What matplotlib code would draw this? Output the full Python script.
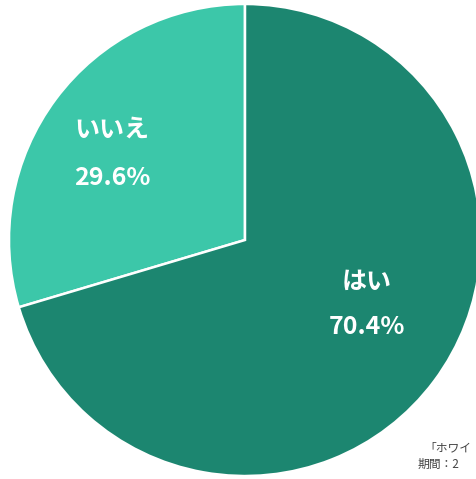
"""Pie chart: はい / いいえ split, cropped like the source screenshot."""

import matplotlib

matplotlib.use("Agg")
import matplotlib.pyplot as plt

plt.rcParams["font.family"] = ["Noto Sans CJK JP", "DejaVu Sans"]

labels = ["いいえ", "はい"]
shares = [29.6, 70.4]
colors = ["#3cc7a9", "#1c8670"]

W, H = 476, 479


def main() -> None:
    fig = plt.figure(figsize=(W / 100, H / 100), dpi=100)
    ax = fig.add_axes([0, 0, 1, 1])

    ax.pie(
        shares,
        colors=colors,
        startangle=90,
        counterclock=True,
        center=(245, H - 240),
        radius=236,
        wedgeprops=dict(edgecolor="white", linewidth=1.8),
        frame=True,
    )
    ax.set_xlim(0, W)
    ax.set_ylim(0, H)
    ax.set_aspect("equal")
    ax.axis("off")

    # labels inside the wedges
    spots = [(112, 130, 178), (367, 282, 327)]
    for lab, val, (x, y1, y2) in zip(labels, shares, spots):
        ax.text(x, H - y1, lab, ha="center", va="center", color="white",
                fontsize=18, fontweight="bold")
        ax.text(x, H - y2, f"{val}%", ha="center", va="center", color="white",
                fontsize=18, fontweight="bold")

    # source note, only the part that shows before the right edge
    ax.text(424, H - 448, "「ホワイ", ha="left", va="center",
            fontsize=8.5, color="#444444")
    ax.text(418, H - 464, "期間：2", ha="left", va="center",
            fontsize=8.5, color="#444444")

    fig.savefig("out.png", dpi=100)


if __name__ == "__main__":
    main()
